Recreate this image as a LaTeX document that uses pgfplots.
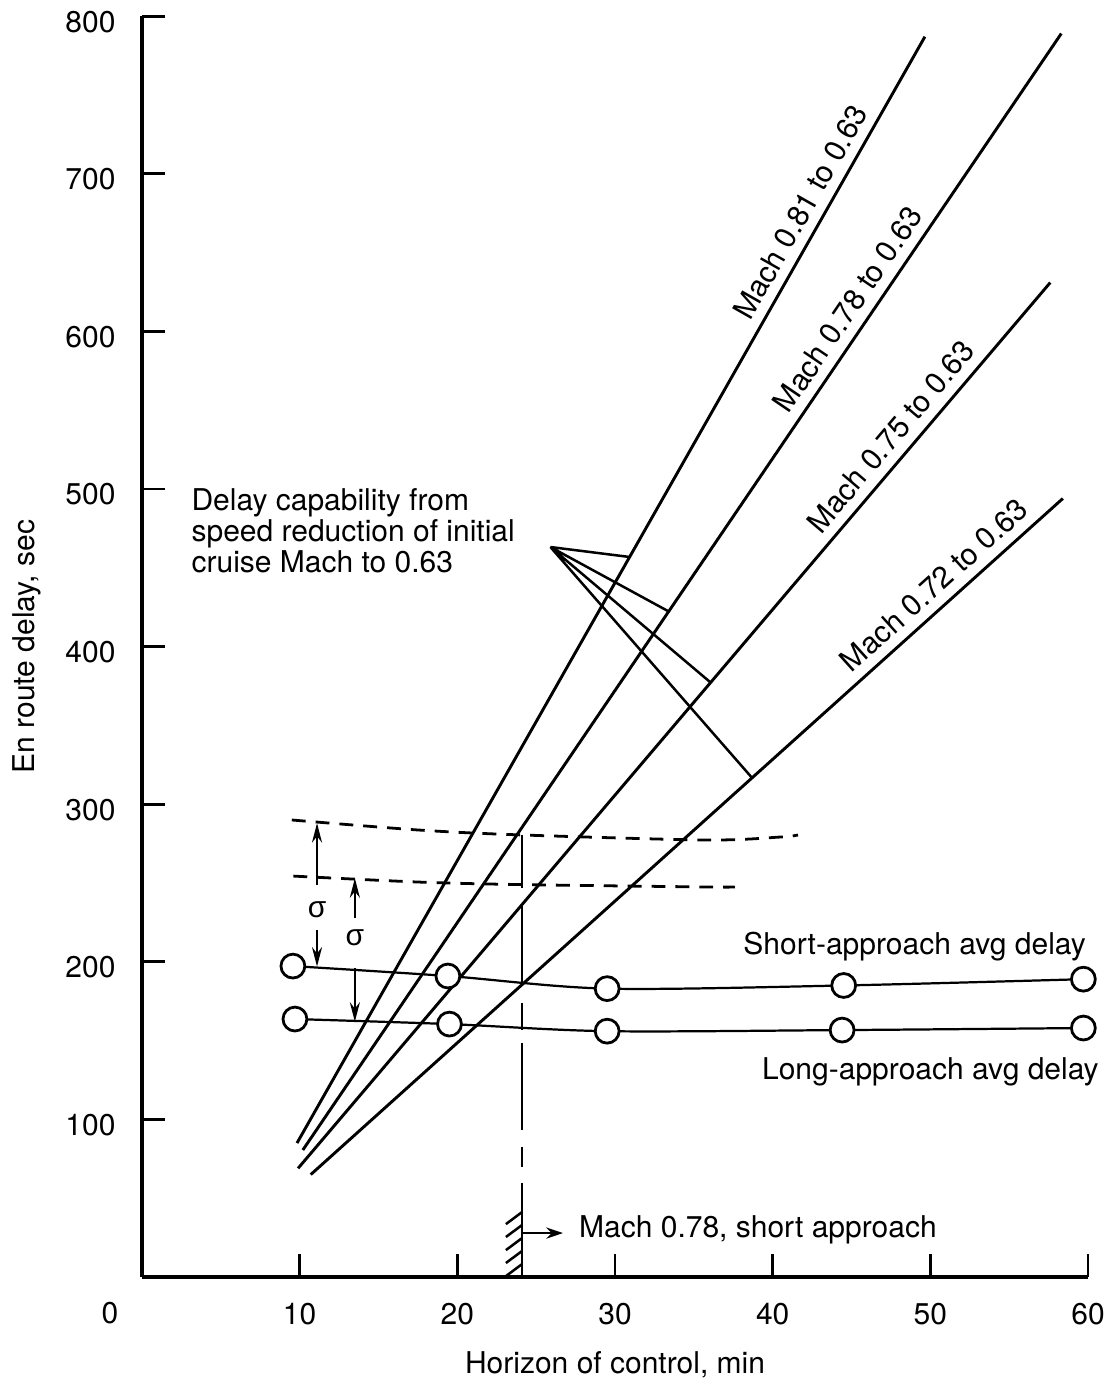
\documentclass[border=0pt]{standalone}
\usepackage{pgfplots}
\pgfplotsset{compat=1.18}
\usepackage{fontspec}
\setmainfont{TeX Gyre Heros}
\newfontfamily\greekfont{Liberation Sans}
\usetikzlibrary{arrows.meta}

\begin{document}
\begin{tikzpicture}[font=\fontsize{10.8}{10.2}\selectfont]
\begin{axis}[
  scale only axis, width=340.6pt, height=453.9pt,
  xmin=0, xmax=60, ymin=0, ymax=800,
  axis x line*=bottom, axis y line*=left,
  axis line style={-, line width=1.4pt},
  xtick={10,20,30,40,50,60}, ytick={100,200,...,800},
  tick align=inside, major tick length=8.3pt,
  tick style={line width=1pt, black},
  /pgf/number format/assume math mode=true,
  ticklabel style={font=\fontsize{10.8}{12}\selectfont},
  xticklabel style={yshift=-5.8pt},
  yticklabel style={xshift=-6pt, yshift=-2pt},
  clip=false,
  every axis plot/.append style={line width=1.05pt, black},
]
% Mach lines
\addplot[black, no marks] coordinates {(9.83,85) (49.65,787)} node[pos=0.832, sloped, above] {Mach 0.81 to 0.63};
\addplot[black, no marks] coordinates {(10.2,80.6) (58.3,789)} node[pos=0.742, sloped, above] {Mach 0.78 to 0.63};
\addplot[black, no marks] coordinates {(9.9,69) (57.6,631)} node[pos=0.81, sloped, above] {Mach 0.75 to 0.63};
\addplot[black, no marks] coordinates {(10.7,65) (58.4,494)} node[pos=0.848, sloped, above] {Mach 0.72 to 0.63};

% dashed sigma bands
\addplot[black, no marks, smooth, line width=1pt, dash pattern=on 5pt off 3.6pt] coordinates {(9.5,290) (17.6,283.6) (24.1,280.5) (35.8,277.3) (40.5,279.2) (41.6,280.5)};
\addplot[black, no marks, smooth, line width=1pt, dash pattern=on 5pt off 3.6pt] coordinates {(9.6,254.4) (17.6,250.6) (24.1,249) (35.8,247.5) (37.6,247.5)};

% average delay curves
\addplot[black, smooth, line width=0.8pt, mark=*, mark size=4.3pt, mark options={fill=white, draw=black, line width=1pt}] coordinates {(9.57,197.3) (19.4,191) (29.5,183) (44.5,185) (59.7,189)};
\addplot[black, smooth, line width=0.8pt, mark=*, mark size=4.3pt, mark options={fill=white, draw=black, line width=1pt}] coordinates {(9.7,163.7) (19.5,160.5) (29.5,156) (44.4,156.7) (59.7,158)};

% fan annotation
\draw[line width=0.9pt] (axis cs:25.9,463.2) -- (axis cs:30.9,456.9)
  (axis cs:25.9,463.2) -- (axis cs:33.35,422.6)
  (axis cs:25.9,463.2) -- (axis cs:36.1,376.9)
  (axis cs:25.9,463.2) -- (axis cs:38.7,316.6);
\node[anchor=west, align=left, inner sep=0pt] at (axis cs:3.11,473.4) {Delay capability from\\speed reduction of initial\\cruise Mach to 0.63};

% sigma arrows
\draw[-{Stealth[length=7pt,width=3.6pt]}, line width=0.9pt] (axis cs:11.1,248.7) -- (axis cs:11.1,288);
\node at (axis cs:11.1,233) {\greekfont σ};
\draw[-{Stealth[length=7pt,width=3.6pt]}, line width=0.9pt] (axis cs:11.1,220) -- (axis cs:11.1,197);
\draw[-{Stealth[length=7pt,width=3.6pt]}, line width=0.9pt] (axis cs:13.5,227.8) -- (axis cs:13.5,253);
\node at (axis cs:13.5,215) {\greekfont σ};
\draw[-{Stealth[length=7pt,width=3.6pt]}, line width=0.9pt] (axis cs:13.5,196) -- (axis cs:13.5,162);

% vertical long-dashed line
\draw[line width=1pt] (axis cs:24.1,280.5) -- (axis cs:24.1,246.8)
  (axis cs:24.1,236) -- (axis cs:24.1,185.3)
  (axis cs:24.1,173.9) -- (axis cs:24.1,156.7)
  (axis cs:24.1,148.5) -- (axis cs:24.1,93.3)
  (axis cs:24.1,82.5) -- (axis cs:24.1,69.8)
  (axis cs:24.1,59.6) -- (axis cs:24.1,0);
% hatch
\draw[line width=0.9pt] (axis cs:23.08,33.6) -- (axis cs:24.1,41.2)
  (axis cs:23.08,25.4) -- (axis cs:24.1,33)
  (axis cs:23.08,17.1) -- (axis cs:24.1,24.7)
  (axis cs:23.08,8.9) -- (axis cs:24.1,16.5)
  (axis cs:23.08,0.6) -- (axis cs:24.1,8.2);
\draw[-{Stealth[length=6pt,width=4pt]}, line width=0.9pt] (axis cs:24.1,27.9) -- (axis cs:26.7,27.9);
\node[anchor=west] at (axis cs:27.1,29.8) {Mach 0.78, short approach};

% curve labels
\node at (axis cs:49.0,209.4) {Short-approach avg delay};
\node at (axis cs:50.0,130) {Long-approach avg delay};

% axis labels
\node at (axis cs:-2.03,0) [yshift=-13pt] {0};
\node at (axis cs:30,0) [yshift=-31.7pt] {Horizon of control, min};
\node[rotate=90] at (axis cs:-7.3,400) {En route delay, sec};

\coordinate (bbSW) at (axis cs:-9.005,-70.4);
\coordinate (bbNE) at (axis cs:61.70,810.3);
\end{axis}
\pgfresetboundingbox
\useasboundingbox (bbSW) rectangle (bbNE);
\end{tikzpicture}
\end{document}
